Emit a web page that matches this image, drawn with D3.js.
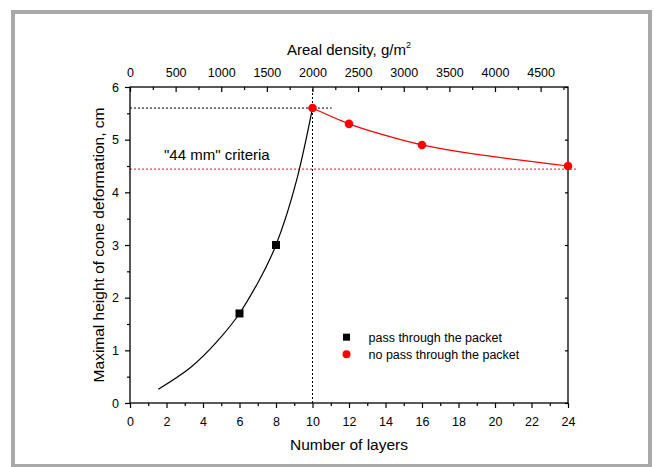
<!DOCTYPE html>
<html>
<head>
<meta charset="utf-8">
<script src="https://cdn.jsdelivr.net/npm/d3@7"></script>
<style>
  body { margin: 0; background: #fff; }
  text { font-family: Arial, "Liberation Sans", sans-serif; }
</style>
</head>
<body>
<div id="chart"></div>
<script>
// measured points
const passLayers = [6, 8];
const passHeight = [1.7, 3.0];
const noPassLayers = [10, 12, 16, 24];
const noPassHeight = [5.6, 5.3, 4.9, 4.5];

// fitted curves
const blackCurveX = [1.55, 3.3, 4.75, 6.0, 7.0, 8.0, 9.13, 10];
const blackCurveY = [0.26, 0.67, 1.16, 1.7, 2.28, 3.0, 4.23, 5.6];
const redCurveX = [10, 12, 13.9, 16, 19.2, 24];
const redCurveY = [5.6, 5.3, 5.09, 4.9, 4.71, 4.5];

const criteria = 4.44;
const bottomTicks = d3.range(0, 25, 2);
const topTicks = d3.range(0, 5000, 500);
const leftTicks = [0, 1, 2, 3, 4, 5, 6];
const legendLabels = ["pass through the packet", "no pass through the packet"];

const W = 654, H = 467;
const margin = { top: 87, right: 86, bottom: 64, left: 130 },
      width = W - margin.left - margin.right,
      height = H - margin.top - margin.bottom;

const root = d3.select("#chart").append("svg")
  .attr("width", W)
  .attr("height", H);

// gray frame
root.append("rect")
  .attr("x", 13).attr("y", 12)
  .attr("width", 637).attr("height", 454)
  .attr("fill", "none")
  .attr("stroke", "#a9a9ab")
  .attr("stroke-width", 4);

const svg = root.append("g")
  .attr("transform", `translate(${margin.left},${margin.top})`);

const x = d3.scaleLinear().domain([0, 24]).range([0, width]);
const xTop = d3.scaleLinear().domain([0, 4800]).range([0, width]);
const y = d3.scaleLinear().domain([0, 6]).range([height, 0]);

// reference lines
svg.append("line")
  .attr("x1", x(0)).attr("x2", x(11.05))
  .attr("y1", y(5.6)).attr("y2", y(5.6))
  .attr("stroke", "#000").attr("stroke-width", 1)
  .attr("stroke-dasharray", "2,2");
svg.append("line")
  .attr("x1", x(10)).attr("x2", x(10))
  .attr("y1", y(0)).attr("y2", y(6))
  .attr("stroke", "#000").attr("stroke-width", 1)
  .attr("stroke-dasharray", "2,2");
svg.append("line")
  .attr("x1", x(0)).attr("x2", x(24) + 10)
  .attr("y1", y(criteria)).attr("y2", y(criteria))
  .attr("stroke", "#ff4040").attr("stroke-width", 1.3)
  .attr("stroke-dasharray", "2,2");

svg.append("text")
  .attr("x", 34).attr("y", y(criteria) - 9)
  .attr("font-size", 15)
  .text("\"44 mm\" criteria");

// curves
const line = d3.line()
  .x(d => x(d[0]))
  .y(d => y(d[1]))
  .curve(d3.curveNatural);

svg.append("path")
  .attr("d", line(d3.zip(blackCurveX, blackCurveY)))
  .attr("fill", "none")
  .attr("stroke", "#000")
  .attr("stroke-width", 1.2);

svg.append("path")
  .attr("d", line(d3.zip(redCurveX, redCurveY)))
  .attr("fill", "none")
  .attr("stroke", "#ff0000")
  .attr("stroke-width", 1.2);

// axes
function styleAxis(g) {
  g.select(".domain").remove();
  g.selectAll("line").attr("stroke", "#000").attr("stroke-width", 1.2);
  g.selectAll("text").attr("font-size", 12.5).attr("fill", "#000")
    .style("font-family", "Arial, 'Liberation Sans', sans-serif");
}

svg.append("g")
  .attr("transform", `translate(0,${height})`)
  .call(d3.axisBottom(x).tickValues(bottomTicks).tickSize(5).tickPadding(9).tickFormat(d3.format("d")))
  .call(styleAxis);
svg.append("g")
  .attr("transform", `translate(0,${height})`)
  .call(d3.axisBottom(x).tickValues(d3.range(1, 24, 2)).tickSize(3).tickFormat(""))
  .call(styleAxis);

svg.append("g")
  .call(d3.axisTop(xTop).tickValues(topTicks).tickSize(-5).tickPadding(10).tickFormat(d3.format("d")))
  .call(styleAxis);
svg.append("g")
  .call(d3.axisTop(xTop).tickValues(d3.range(250, 4800, 500)).tickSize(-3).tickFormat(""))
  .call(styleAxis);

svg.append("g")
  .call(d3.axisLeft(y).tickValues(leftTicks).tickSize(5).tickPadding(6).tickFormat(d3.format("d")))
  .call(styleAxis);
svg.append("g")
  .call(d3.axisLeft(y).tickValues(d3.range(0.5, 6, 1)).tickSize(3).tickFormat(""))
  .call(styleAxis);

svg.append("g")
  .attr("transform", `translate(${width},0)`)
  .call(d3.axisRight(y).tickValues(leftTicks).tickSize(-3).tickFormat(""))
  .call(styleAxis);

svg.append("rect")
  .attr("width", width).attr("height", height)
  .attr("fill", "none")
  .attr("stroke", "#000")
  .attr("stroke-width", 1.3);

// points
svg.selectAll(".pass")
  .data(d3.zip(passLayers, passHeight))
  .join("rect")
  .attr("class", "pass")
  .attr("x", d => x(d[0]) - 4)
  .attr("y", d => y(d[1]) - 4)
  .attr("width", 8).attr("height", 8)
  .attr("fill", "#000");

svg.selectAll(".nopass")
  .data(d3.zip(noPassLayers, noPassHeight))
  .join("circle")
  .attr("class", "nopass")
  .attr("cx", d => x(d[0]))
  .attr("cy", d => y(d[1]))
  .attr("r", 4.3)
  .attr("fill", "#ff0000");

// axis titles
svg.append("text")
  .attr("x", width / 2).attr("y", height + 47)
  .attr("text-anchor", "middle")
  .attr("font-size", 15.5)
  .text("Number of layers");

const title = svg.append("text")
  .attr("x", width / 2).attr("y", -32)
  .attr("text-anchor", "middle")
  .attr("font-size", 15);
title.append("tspan").text("Areal density, g/m");
title.append("tspan").attr("dy", -7).attr("font-size", 9).text("2");

svg.append("text")
  .attr("transform", `translate(-26,${height / 2}) rotate(-90)`)
  .attr("text-anchor", "middle")
  .attr("font-size", 15.5)
  .text("Maximal height of cone deformation, cm");

// legend
const legend = svg.append("g").attr("transform", `translate(${x(10) + 34},${y(1.25)})`);
legend.append("rect")
  .attr("x", -3.5).attr("y", -3.5)
  .attr("width", 7).attr("height", 7)
  .attr("fill", "#000");
legend.append("circle")
  .attr("cx", 0).attr("cy", 17)
  .attr("r", 4)
  .attr("fill", "#ff0000");
legend.selectAll(".lab")
  .data(legendLabels)
  .join("text")
  .attr("class", "lab")
  .attr("x", 22)
  .attr("y", (d, i) => i * 17)
  .attr("dy", "0.35em")
  .attr("font-size", 12.5)
  .text(d => d);
</script>
</body>
</html>
